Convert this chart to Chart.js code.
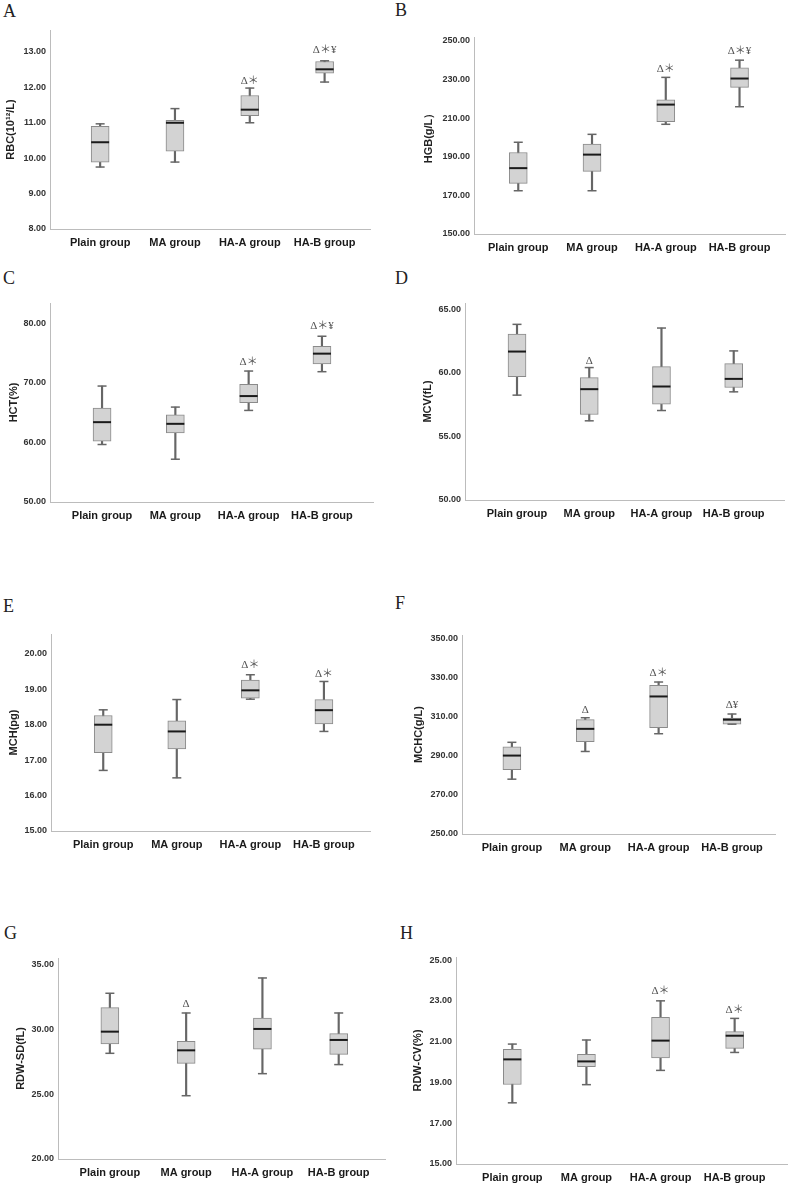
<!DOCTYPE html>
<html>
<head>
<meta charset="utf-8">
<script src="https://cdn.jsdelivr.net/npm/chart.js@4.4.1/dist/chart.umd.min.js"></script>
<style>
  body { margin: 0; background: #fff; width: 790px; height: 1185px; position: relative; overflow: hidden; }
  canvas { position: absolute; }
  .tag { position: absolute; font-family: 'Liberation Serif', serif; font-size: 18px; line-height: 1; color: #222; }
</style>
</head>
<body>
<div class="tag" style="left:3px;top:2px">A</div>
<div class="tag" style="left:395px;top:1px">B</div>
<div class="tag" style="left:3px;top:269px">C</div>
<div class="tag" style="left:395px;top:269px">D</div>
<div class="tag" style="left:3px;top:597px">E</div>
<div class="tag" style="left:395px;top:594px">F</div>
<div class="tag" style="left:4px;top:924px">G</div>
<div class="tag" style="left:400px;top:924px">H</div>

<script>
// groups on the x axis
const categories = ['Plain group', 'MA group', 'HA-A group', 'HA-B group'];

// each row: [min, Q1, median, Q3, max]
const rbcBox = [[9.75, 9.89, 10.45, 10.90, 10.97], [9.89, 10.20, 11.00, 11.07, 11.40], [11.00, 11.20, 11.37, 11.77, 11.98], [12.15, 12.40, 12.51, 12.73, 12.75]];
const hgbBox = [[172.4, 176.2, 184.1, 192.2, 197.5], [172.4, 182.4, 191.1, 196.6, 201.6], [206.8, 208.2, 217.0, 219.5, 231.1], [215.9, 225.9, 230.5, 236.0, 240.0]];
const hctBox = [[59.65, 60.2, 63.4, 65.76, 69.46], [57.18, 61.6, 63.12, 64.64, 65.93], [65.37, 66.66, 67.78, 69.74, 71.98], [71.87, 73.16, 74.9, 76.14, 77.82]];
const mcvBox = [[58.25, 59.71, 61.68, 63.06, 63.82], [56.23, 56.73, 58.72, 59.63, 60.42], [57.04, 57.54, 58.93, 60.5, 63.53], [58.51, 58.85, 59.53, 60.73, 61.73]];
const mchBox = [[16.71, 17.21, 18.0, 18.26, 18.42], [16.5, 17.32, 17.81, 18.11, 18.71], [18.72, 18.75, 18.97, 19.26, 19.41], [17.81, 18.02, 18.41, 18.71, 19.22]];
const mchcBox = [[278.1, 283.0, 290.2, 294.7, 297.0], [292.3, 297.3, 303.9, 308.6, 309.6], [301.4, 304.5, 320.5, 326.2, 327.9], [306.3, 306.3, 308.6, 309.4, 311.5]];
const rdwsdBox = [[28.15, 28.87, 29.82, 31.67, 32.78], [24.88, 27.38, 28.38, 29.07, 31.26], [26.58, 28.46, 30.03, 30.87, 33.96], [27.28, 28.07, 29.18, 29.67, 31.26]];
const rdwcvBox = [[18.0, 18.9, 20.13, 20.62, 20.88], [18.89, 19.77, 20.03, 20.38, 21.08], [19.59, 20.2, 21.05, 22.19, 23.0], [20.47, 20.67, 21.29, 21.49, 22.14]];

// y tick labels
const rbcTicks = [8, 9, 10, 11, 12, 13];
const hgbTicks = [150, 170, 190, 210, 230, 250];
const hctTicks = [50, 60, 70, 80];
const mcvTicks = [50, 55, 60, 65];
const mchTicks = [15, 16, 17, 18, 19, 20];
const mchcTicks = [250, 270, 290, 310, 330, 350];
const rdwsdTicks = [20, 25, 30, 35];
const rdwcvTicks = [15, 17, 19, 21, 23, 25];

// significance marks and the value they sit at
const rbcMarks = ['', '', 'Δ＊', 'Δ＊¥'];
const rbcMarkY = [null, null, 12.18, 13.05];
const hgbMarks = ['', '', 'Δ＊', 'Δ＊¥'];
const hgbMarkY = [null, null, 235.4, 244.8];
const hctMarks = ['', '', 'Δ＊', 'Δ＊¥'];
const hctMarkY = [null, null, 73.56, 79.6];
const mcvMarks = ['', 'Δ', '', ''];
const mcvMarkY = [null, 60.94, null, null];
const mchMarks = ['', '', 'Δ＊', 'Δ＊'];
const mchMarkY = [null, null, 19.67, 19.44];
const mchcMarks = ['', 'Δ', 'Δ＊', 'Δ¥'];
const mchcMarkY = [null, 313.7, 332.5, 316.1];
const rdwsdMarks = ['', 'Δ', '', ''];
const rdwsdMarkY = [null, 31.98, null, null];
const rdwcvMarks = ['', '', 'Δ＊', 'Δ＊'];
const rdwcvMarkY = [null, null, 23.5, 22.55];

// panel placement (page pixels)
const panels = [
  { box: rbcBox, ticks: rbcTicks, marks: rbcMarks, markY: rbcMarkY, title: 'RBC(10¹²/L)', titleX: 11, axisX: 50, top: 30, axisY: 229, right: 370, yMax: 13.62, xMin: -0.67, xMax: 3.62 },
  { box: hgbBox, ticks: hgbTicks, marks: hgbMarks, markY: hgbMarkY, title: 'HGB(g/L）', titleX: 429, axisX: 474, top: 37, axisY: 234, right: 785, yMax: 252, xMin: -0.6, xMax: 3.63 },
  { box: hctBox, ticks: hctTicks, marks: hctMarks, markY: hctMarkY, title: 'HCT(%)', titleX: 14, axisX: 50, top: 303, axisY: 502, right: 373, yMax: 83.4, xMin: -0.71, xMax: 3.71 },
  { box: mcvBox, ticks: mcvTicks, marks: mcvMarks, markY: mcvMarkY, title: 'MCV(fL)', titleX: 428, axisX: 465, top: 303, axisY: 500, right: 784, yMax: 65.5, xMin: -0.72, xMax: 3.71 },
  { box: mchBox, ticks: mchTicks, marks: mchMarks, markY: mchMarkY, title: 'MCH(pg)', titleX: 14, axisX: 51, top: 634, axisY: 831, right: 370, yMax: 20.56, xMin: -0.71, xMax: 3.64 },
  { box: mchcBox, ticks: mchcTicks, marks: mchcMarks, markY: mchcMarkY, title: 'MCHC(g/L)', titleX: 419, axisX: 462, top: 635, axisY: 834, right: 775, yMax: 352, xMin: -0.68, xMax: 3.6 },
  { box: rdwsdBox, ticks: rdwsdTicks, marks: rdwsdMarks, markY: rdwsdMarkY, title: 'RDW-SD(fL)', titleX: 21, axisX: 58, top: 958, axisY: 1159, right: 385, yMax: 35.5, xMin: -0.68, xMax: 3.62 },
  { box: rdwcvBox, ticks: rdwcvTicks, marks: rdwcvMarks, markY: rdwcvMarkY, title: 'RDW-CV(%)', titleX: 418, axisX: 456, top: 957, axisY: 1164, right: 787, yMax: 25.15, xMin: -0.76, xMax: 3.72 }
];

const PAD_TOP = 8;
const X_AXIS_H = 28;

function drawPanel(p) {
  const left = Math.round(p.titleX - 6.6);
  const canvasTop = p.top - PAD_TOP;
  const w = p.right - left + 1;
  const h = p.axisY - p.top + PAD_TOP + X_AXIS_H;
  const yW = p.axisX - left;

  const cv = document.createElement('canvas');
  cv.style.left = left + 'px';
  cv.style.top = canvasTop + 'px';
  cv.style.width = w + 'px';
  cv.style.height = h + 'px';
  document.body.appendChild(cv);

  const idx = [0, 1, 2, 3];
  const marksPlugin = {
    id: 'marks',
    afterDatasetsDraw(chart) {
      const { ctx, scales: { x, y } } = chart;
      ctx.save();
      ctx.font = "11px 'Liberation Serif', 'Noto Sans CJK SC', serif";
      ctx.fillStyle = '#555';
      ctx.textAlign = 'center';
      ctx.textBaseline = 'middle';
      p.marks.forEach((m, i) => {
        if (!m) return;
        ctx.fillText(m, x.getPixelForValue(i), y.getPixelForValue(p.markY[i]));
      });
      ctx.restore();
    }
  };

  new Chart(cv, {
    type: 'bar',
    data: {
      datasets: [
        {
          type: 'line', order: 0, showLine: false,
          data: idx.map(i => ({ x: i, y: p.box[i][2] })),
          pointStyle: 'line', pointRadius: 9, pointBorderWidth: 2,
          pointBorderColor: '#1a1a1a', pointBackgroundColor: '#1a1a1a'
        },
        {
          type: 'line', order: 1, showLine: false,
          data: idx.flatMap(i => [{ x: i, y: p.box[i][0] }, { x: i, y: p.box[i][4] }]),
          pointStyle: 'line', pointRadius: 4.5, pointBorderWidth: 1.5,
          pointBorderColor: '#666', pointBackgroundColor: '#666'
        },
        {
          order: 2, grouped: false, barThickness: 18,
          data: idx.map(i => ({ x: i, y: [p.box[i][1], p.box[i][3]] })),
          backgroundColor: '#d3d3d3', borderColor: '#8a8a8a', borderWidth: 1, borderSkipped: false
        },
        {
          order: 3, grouped: false, barThickness: 1.5,
          data: idx.map(i => ({ x: i, y: [p.box[i][0], p.box[i][4]] })),
          backgroundColor: '#666', borderWidth: 0
        }
      ]
    },
    options: {
      responsive: false,
      animation: false,
      events: [],
      layout: { autoPadding: false, padding: { top: PAD_TOP, left: 0, right: 0, bottom: 0 } },
      plugins: { legend: { display: false }, tooltip: { enabled: false } },
      scales: {
        x: {
          type: 'linear', min: p.xMin, max: p.xMax, offset: false,
          grid: { display: false, drawTicks: false, offset: false },
          border: { display: true, color: '#bcbcbc', width: 1 },
          afterBuildTicks: s => { s.ticks = idx.map(v => ({ value: v })); },
          afterFit: s => { s.height = X_AXIS_H; s.paddingLeft = 0; s.paddingRight = 0; },
          ticks: {
            autoSkip: false, maxRotation: 0, padding: 7,
            color: '#1a1a1a',
            font: { family: "'Liberation Sans', Arial, sans-serif", size: 11, weight: 'bold' },
            callback: v => categories[v]
          }
        },
        y: {
          min: p.ticks[0], max: p.yMax,
          grid: { display: false, drawTicks: false },
          border: { display: true, color: '#bcbcbc', width: 1 },
          afterBuildTicks: s => { s.ticks = p.ticks.map(v => ({ value: v })); },
          afterFit: s => { s.width = yW; s.paddingTop = 0; s.paddingBottom = 0; },
          ticks: {
            padding: 4, color: '#333',
            font: { family: "'Liberation Sans', Arial, sans-serif", size: 9, weight: 'bold' },
            callback: v => Number(v).toFixed(2)
          },
          title: {
            display: true, text: p.title, color: '#222', padding: 0,
            font: { family: "'Liberation Sans', Arial, sans-serif", size: 11, weight: 'bold' }
          }
        }
      }
    },
    plugins: [marksPlugin]
  });
}

panels.forEach(drawPanel);
</script>
</body>
</html>
